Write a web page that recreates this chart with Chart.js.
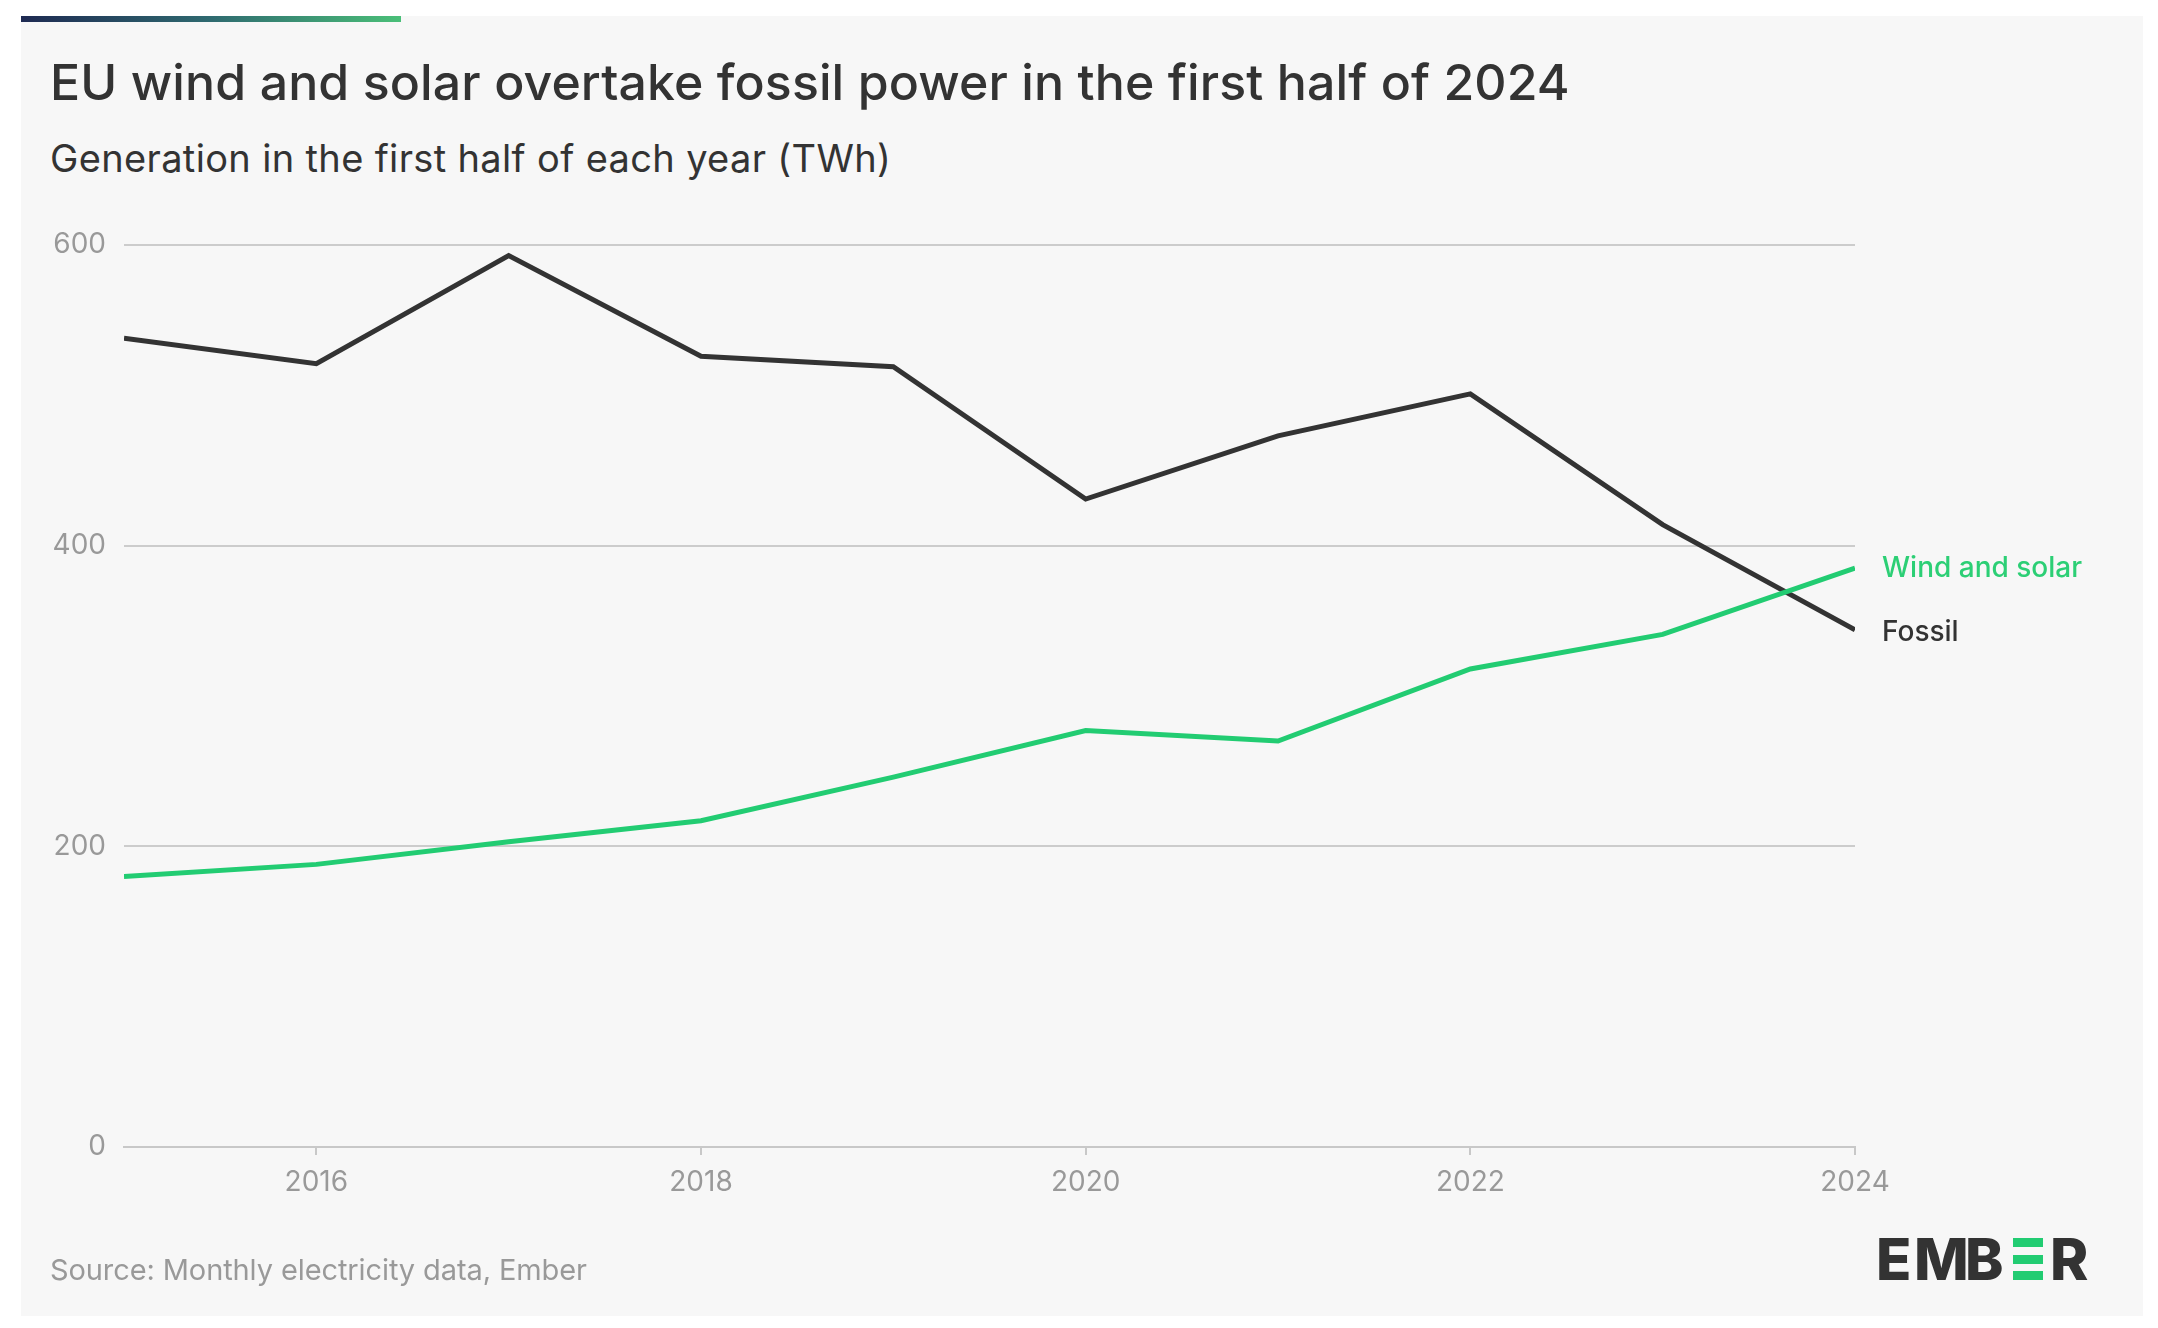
<!DOCTYPE html>
<html>
<head>
<meta charset="utf-8">
<script src="https://cdn.jsdelivr.net/npm/chart.js@4"></script>
<style>
  html, body { margin: 0; padding: 0; background: #ffffff; }
  body { width: 2158px; height: 1328px; position: relative; overflow: hidden; font-family: Inter, "Noto Sans", sans-serif; }
  #card { position: absolute; left: 21px; top: 16px; width: 2122px; height: 1300px; background: #f7f7f7; }
  #topbar { position: absolute; left: 21px; top: 16px; width: 380px; height: 6px; background: linear-gradient(90deg, #1e2a52 0%, #2f6a70 50%, #4abf78 100%); }
  .txt { position: absolute; white-space: nowrap; line-height: 1; }
  #title { left: 50px; top: 57px; font-size: 50px; font-weight: 500; color: #333333; letter-spacing: 0.1px; }
  #subtitle { left: 50px; top: 139px; font-size: 38px; font-weight: 400; color: #333333; letter-spacing: 0.35px; }
  #source { left: 50px; top: 1255px; font-size: 29px; font-weight: 400; color: #999999; letter-spacing: -0.1px; }
  #chartWrap { position: absolute; left: 0; top: 0; width: 2158px; height: 1328px; }
  .logo { position: absolute; top: 1230px; font-size: 58px; font-weight: 800; color: #333333; line-height: 1; }
  .bar { position: absolute; left: 2013px; width: 30px; height: 9px; background: #22cc72; }
</style>
</head>
<body>
<div id="card"></div>
<div id="topbar"></div>
<div class="txt" id="title">EU wind and solar overtake fossil power in the first half of 2024</div>
<div class="txt" id="subtitle">Generation in the first half of each year (TWh)</div>
<div id="chartWrap"><canvas id="c"></canvas></div>
<div class="txt" id="source">Source: Monthly electricity data, Ember</div>
<span class="logo" style="left:1876px">E</span>
<span class="logo" style="left:1914px">M</span>
<span class="logo" style="left:1965px">B</span>
<div class="bar" style="top:1238px"></div>
<div class="bar" style="top:1255px"></div>
<div class="bar" style="top:1271px"></div>
<span class="logo" style="left:2050px">R</span>
<script>
const years = [2015, 2016, 2017, 2018, 2019, 2020, 2021, 2022, 2023, 2024];
const fossil = [538, 521, 593, 526, 519, 431, 473, 501, 414, 344];
const windSolar = [180, 188, 203, 217, 246, 277, 270, 318, 341, 385];
const xTickYears = [2016, 2018, 2020, 2022, 2024];
const yTicks = [0, 200, 400, 600];
const seriesNames = ['Wind and solar', 'Fossil'];

const GREEN = '#22cc72';
const DARK = '#333333';

const endLabels = {
  id: 'endLabels',
  afterDatasetsDraw(chart) {
    const ctx = chart.ctx;
    ctx.save();
    ctx.font = '500 28px Inter, "Noto Sans", sans-serif';
    ctx.textBaseline = 'middle';
    ctx.textAlign = 'left';
    chart.data.datasets.forEach((ds, i) => {
      const meta = chart.getDatasetMeta(i);
      const pt = meta.data[meta.data.length - 1];
      ctx.fillStyle = ds.labelColor;
      ctx.fillText(ds.label, pt.x + 27, pt.y + ds.labelDy);
    });
    ctx.restore();
  }
};

new Chart(document.getElementById('c'), {
  type: 'line',
  data: {
    datasets: [
      {
        label: seriesNames[0],
        data: years.map((y, i) => ({ x: y, y: windSolar[i] })),
        borderColor: GREEN,
        labelColor: '#2ccf75',
        labelDy: 0,
        borderWidth: 5,
        pointRadius: 0,
        tension: 0,
        borderJoinStyle: 'miter'
      },
      {
        label: seriesNames[1],
        data: years.map((y, i) => ({ x: y, y: fossil[i] })),
        borderColor: DARK,
        labelColor: DARK,
        labelDy: 3,
        borderWidth: 5,
        pointRadius: 0,
        tension: 0,
        borderJoinStyle: 'miter'
      }
    ]
  },
  options: {
    responsive: true,
    maintainAspectRatio: false,
    animation: false,
    layout: { padding: { left: 24, right: 303, top: 245, bottom: 121 } },
    plugins: { legend: { display: false }, tooltip: { enabled: false }, title: { display: false } },
    scales: {
      x: {
        type: 'linear',
        min: 2015,
        max: 2024,
        afterBuildTicks(scale) { scale.ticks = xTickYears.map(v => ({ value: v })); },
        afterFit(scale) { scale.height = 60; },
        ticks: {
          color: '#999999',
          font: { family: 'Inter, "Noto Sans", sans-serif', size: 28 },
          padding: 11,
          maxRotation: 0,
          autoSkip: false,
          callback: v => String(v)
        },
        grid: { drawOnChartArea: false, drawTicks: true, tickLength: 8, color: '#c8c8c8', lineWidth: 2 },
        border: { display: true, color: '#c8c8c8', width: 2 }
      },
      y: {
        min: 0,
        max: 600,
        afterBuildTicks(scale) { scale.ticks = yTicks.map(v => ({ value: v })); },
        afterFit(scale) { scale.width = 100; },
        ticks: {
          color: '#999999',
          font: { family: 'Inter, "Noto Sans", sans-serif', size: 28 },
          padding: 18
        },
        grid: { drawTicks: false, color: '#cccccc', lineWidth: 2 },
        border: { display: false }
      }
    }
  },
  plugins: [endLabels]
});
</script>
</body>
</html>
